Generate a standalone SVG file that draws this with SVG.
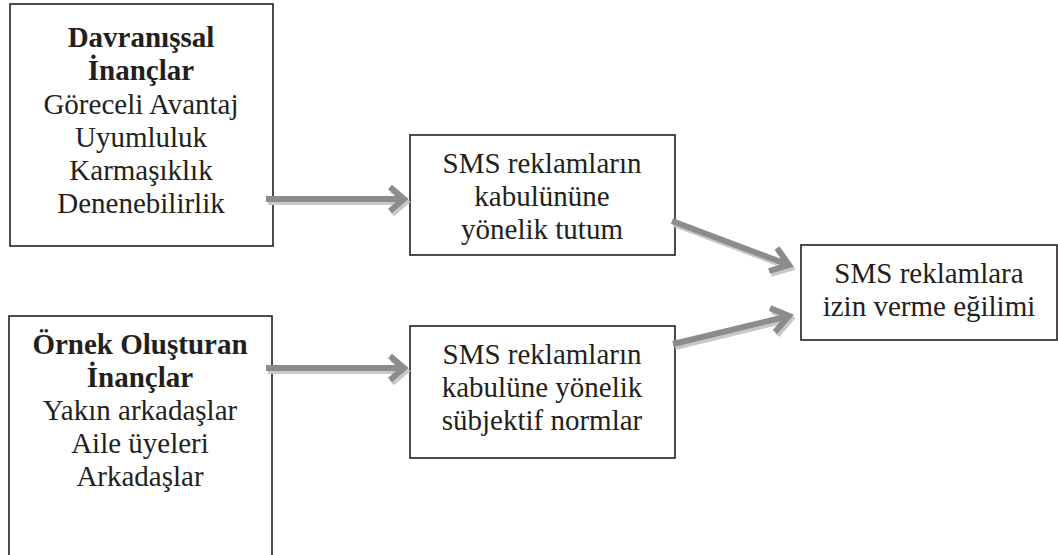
<svg xmlns="http://www.w3.org/2000/svg" width="1058" height="555" viewBox="0 0 1058 555">
<style>
.box{fill:#fff;stroke:#231f20;stroke-width:1.6}
text{font-family:'Liberation Serif','DejaVu Serif',serif;font-size:29px;fill:#231f20;text-anchor:middle}
.b{font-weight:bold}
.sh{fill:none;stroke:#c8c8c8;stroke-width:6;stroke-linejoin:miter}
.ar{fill:none;stroke:#8c8c8c;stroke-width:6;stroke-linejoin:miter}
</style>
<rect width="1058" height="555" fill="#fff"/>
<g id="n1">
<rect class="box" x="10" y="4" width="263" height="242"/>
<text class="b" x="141" y="47">Davranışsal</text>
<text class="b" x="141" y="80">İnançlar</text>
<text x="141" y="114">Göreceli Avantaj</text>
<text x="141" y="147">Uyumluluk</text>
<text x="141" y="180">Karmaşıklık</text>
<text x="141" y="213">Denenebilirlik</text>
</g>
<g id="n2">
<rect class="box" x="9" y="316" width="263" height="260"/>
<text class="b" x="140" y="354">Örnek Oluşturan</text>
<text class="b" x="140" y="387">İnançlar</text>
<text x="140" y="420">Yakın arkadaşlar</text>
<text x="140" y="453">Aile üyeleri</text>
<text x="140" y="486">Arkadaşlar</text>
</g>
<g id="n3">
<rect class="box" x="410" y="135" width="265" height="120"/>
<text x="542" y="173">SMS reklamların</text>
<text x="542" y="206">kabulününe</text>
<text x="542" y="239">yönelik tutum</text>
</g>
<g id="n4">
<rect class="box" x="410" y="326" width="265" height="132"/>
<text x="542" y="364">SMS reklamların</text>
<text x="542" y="397">kabulüne yönelik</text>
<text x="542" y="430">sübjektif normlar</text>
</g>
<g id="n5">
<rect class="box" x="801" y="245" width="256" height="95"/>
<text x="929" y="283">SMS reklamlara</text>
<text x="929" y="316">izin verme eğilimi</text>
</g>
<g id="connectors">
<g id="c1">
<path class="sh" transform="translate(2,3)" d="M266,199 H404 M390,187 L404,199 L390,211"/>
<path class="ar" d="M266,199 H404 M390,187 L404,199 L390,211"/>
</g>
<g id="c2">
<path class="sh" transform="translate(2,3)" d="M266,368 H404 M390,356 L404,368 L390,380"/>
<path class="ar" d="M266,368 H404 M390,356 L404,368 L390,380"/>
</g>
<g id="c3">
<path class="sh" transform="translate(2,3)" d="M672,221 L789,265 M777,248 L789,265 L769,271"/>
<path class="ar" d="M672,221 L789,265 M777,248 L789,265 L769,271"/>
</g>
<g id="c4">
<path class="sh" transform="translate(2,3)" d="M673,344 L789,316 M770,308 L789,316 L775,332"/>
<path class="ar" d="M673,344 L789,316 M770,308 L789,316 L775,332"/>
</g>
</g>
</svg>
